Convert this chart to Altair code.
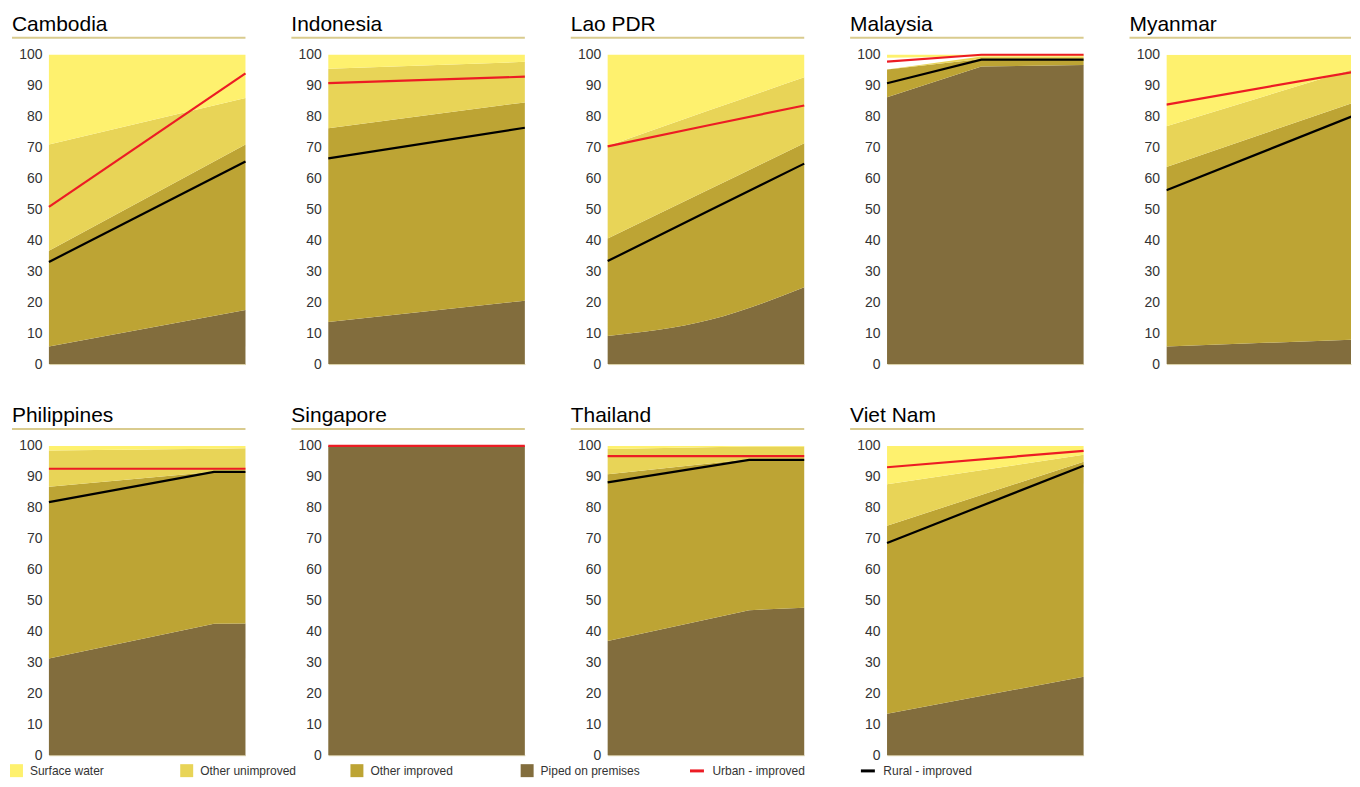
import altair as alt
import pandas as pd

# ---------------- data ----------------
countries = ["Cambodia", "Indonesia", "Lao PDR", "Malaysia", "Myanmar",
             "Philippines", "Singapore", "Thailand", "Viet Nam"]
years = [[1990, 2015], [1990, 2015], [1990, 2003, 2015], [1990, 2002, 2015], [1990, 2015],
         [1990, 2011, 2015], [1990, 2015], [1990, 2008, 2015], [1990, 2015]]
piped = [[5.7, 17.5], [13.6, 20.5], [9.1, 14.3, 24.8], [86.3, 96.2, 96.7], [5.7, 8.0],
         [31.3, 42.5, 42.6], [100, 100], [36.9, 46.9, 47.7], [13.4, 25.4]]
other_improved = [[30.9, 53.5], [62.6, 64.1], [31.5, 42.3, 46.6], [8.9, 2.4, 1.7], [58.0, 77.6],
                  [55.5, 49.1, 49.1], [0, 0], [53.9, 48.8, 48.0], [60.8, 69.5]]
other_unimproved = [[34.4, 15.0], [19.3, 13.1], [29.9, 25.5, 21.3], [0, 0.8, 1.0], [13.2, 10.7],
                    [11.7, 7.5, 7.5], [0, 0], [8.2, 4.1, 4.1], [13.4, 2.2]]
surface_water = [[29.0, 14.0], [4.5, 2.3], [29.5, 17.9, 7.3], [1.0, 0.6, 0.6], [23.1, 3.7],
                 [1.5, 0.9, 0.8], [0, 0], [1.0, 0.2, 0.2], [12.4, 2.9]]
urban_improved = [[50.8, 94.0], [90.8, 92.9], [70.4, 77.3, 83.6], [97.8, 100, 100], [83.9, 95.0],
                  [92.6, 92.6, 92.6], [100, 100], [96.7, 96.7, 96.7], [93.1, 98.4]]
rural_improved = [[33.0, 65.5], [66.5, 76.4], [33.3, 49.7, 64.8], [90.8, 98.4, 98.4], [56.2, 81.5],
                  [81.8, 91.6, 91.6], None, [88.2, 95.5, 95.5], [68.6, 93.6]]

area_cats = ["Surface water", "Other unimproved", "Other improved", "Piped on premises"]
area_colors = ["#FEF16E", "#E8D457", "#BDA434", "#826D3D"]
line_cats = ["Urban - improved", "Rural - improved"]
line_colors = ["#EC1C24", "#000000"]

FONT = "Liberation Sans, Arial, sans-serif"

# ---------------- long tables ----------------
area_rows, line_rows = [], []
for i, c in enumerate(countries):
    for j, yr in enumerate(years[i]):
        p, oi = piped[i][j], other_improved[i][j]
        ou, sw = other_unimproved[i][j], surface_water[i][j]
        bands = {
            "Piped on premises": (0, p),
            "Other improved": (p, p + oi),
            "Other unimproved": (p + oi, p + oi + ou),
            "Surface water": (100 - sw, 100),
        }
        for cat, (lo, hi) in bands.items():
            area_rows.append(dict(country=c, year=yr, category=cat, lo=lo, hi=hi))
        line_rows.append(dict(country=c, year=yr, series="Urban - improved", value=urban_improved[i][j]))
        if rural_improved[i] is not None:
            line_rows.append(dict(country=c, year=yr, series="Rural - improved", value=rural_improved[i][j]))

area_df = pd.DataFrame(area_rows)
nonempty = area_df.assign(h=area_df.hi - area_df.lo).groupby(["country", "category"]).h.transform("max") > 0
area_df = area_df[nonempty]
line_df = pd.DataFrame(line_rows)

W, H = 197, 310
W_LAST = 185          # the right-most panel is cut by the page edge in the reference
YEAR0, YEAR1 = 1990, 2015

y_scale = alt.Scale(domain=[0, 100], nice=False)
y_axis = alt.Axis(values=list(range(0, 101, 10)), title=None, grid=False, domain=False,
                  ticks=False, labelPadding=7, labelFont=FONT, labelFontSize=14,
                  labelColor="#333333")

fill_legend = alt.Legend(title=None, orient="none", legendX=-39, legendY=711,
                         direction="horizontal", columns=4, gridAlign="all",
                         columnPadding=50.6, symbolType="square", symbolSize=169,
                         symbolStrokeWidth=0, labelFont=FONT, labelFontSize=12,
                         labelColor="#333333", labelOffset=7, padding=0)
stroke_legend = alt.Legend(title=None, orient="none", legendX=641, legendY=709,
                           direction="horizontal", columns=2, gridAlign="all",
                           columnPadding=49.3, symbolType="stroke", symbolSize=196,
                           symbolStrokeWidth=3, labelFont=FONT, labelFontSize=12,
                           labelColor="#333333", labelOffset=7, padding=0)


def panel(c, width):
    cut = width < W
    x_max = YEAR0 + (YEAR1 - YEAR0) * width / W
    x_enc = alt.X("year:Q", scale=alt.Scale(domain=[YEAR0, x_max], nice=False, zero=False),
                  axis=alt.Axis(title=None, labels=False, ticks=False, grid=False,
                                domain=True, domainColor="#D9CFA6", domainWidth=1))
    interp = "monotone" if c == "Lao PDR" else "linear"
    a = alt.Chart(area_df[area_df.country == c]).mark_area(interpolate=interp, clip=cut).encode(
        x=x_enc,
        y=alt.Y("lo:Q", scale=y_scale, axis=y_axis),
        y2="hi:Q",
        fill=alt.Fill("category:N", scale=alt.Scale(domain=area_cats, range=area_colors),
                      legend=fill_legend),
    )
    l = alt.Chart(line_df[line_df.country == c]).mark_line(strokeWidth=2.2, clip=cut).encode(
        x=x_enc,
        y=alt.Y("value:Q", scale=y_scale, axis=y_axis),
        stroke=alt.Stroke("series:N", scale=alt.Scale(domain=line_cats, range=line_colors),
                          legend=stroke_legend),
        detail="series:N",
    )
    tdf = pd.DataFrame({"label": [c]})
    t = alt.Chart(tdf).mark_text(align="left", baseline="alphabetic", font=FONT,
                                 fontSize=21, color="#000000").encode(
        text="label:N", x=alt.value(-37), y=alt.value(-24))
    u = alt.Chart(tdf).mark_rule(color="#D9CB8E", strokeWidth=2).encode(
        x=alt.value(-37), x2=alt.value(min(204, width)), y=alt.value(-17))
    return alt.layer(a, l, t, u).properties(width=width, height=H)


panels = [panel(c, W_LAST if c == "Myanmar" else W) for c in countries]

chart = alt.concat(*panels, columns=5,
                   spacing={"row": 82, "column": 83}, bounds="flush").properties(
    padding={"left": 2, "top": 5, "right": 0, "bottom": 0},
    background="white",
).configure_view(stroke=None)

chart.save("out.html", embed_options={"renderer": "svg", "actions": False})
